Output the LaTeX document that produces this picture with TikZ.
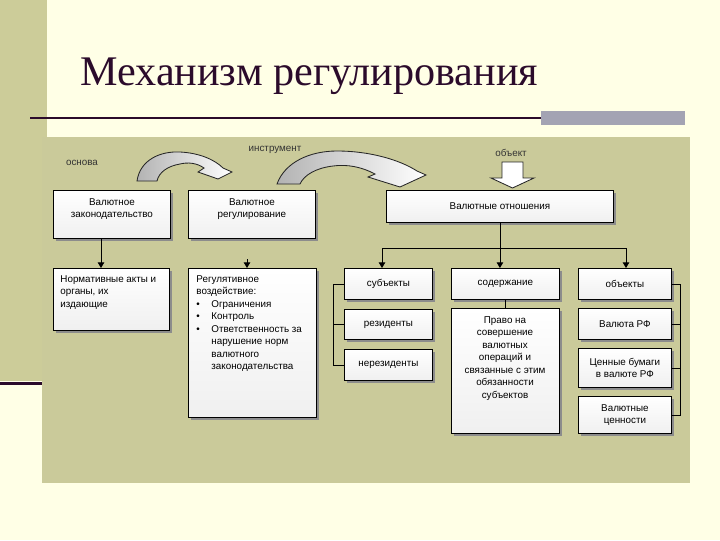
\documentclass[tikz,border=0pt]{standalone}
\usepackage{fontspec}
\setmainfont{Liberation Serif}
\newfontfamily\dsans{Liberation Sans}
\usetikzlibrary{positioning,shadows,arrows.meta}
\definecolor{bgyellow}{HTML}{FFFFE6}
\definecolor{khaki}{HTML}{CCCC99}
\definecolor{panel}{HTML}{CACA9A}
\definecolor{plum}{HTML}{2B0B2B}
\definecolor{barcol}{HTML}{A3A3B3}
\newcommand\px{0.025cm}
\newcommand\bul{\makebox[0.375cm][l]{\textbullet}}
\newcommand\ind{\hspace*{0.375cm}}
\tikzset{
  box/.style n args={2}{draw,line width=0.6pt,anchor=north west,inner sep=1pt,
    minimum width=#1*\px,minimum height=#2*\px,top color=white,bottom color=black!6,
    drop shadow={shadow xshift=0.07cm,shadow yshift=-0.07cm,fill=black!45,opacity=1},
    font=\dsans\fontsize{7}{8.9}\selectfont,align=center},
  boxtext/.style={font=\dsans\fontsize{7}{8.9}\selectfont,inner sep=0pt},
  tag/.style={font=\dsans\fontsize{7}{8.9}\selectfont,text=black!80,inner sep=0pt},
  arr/.style={-{Triangle[width=4.6pt,length=4pt]}},
  bigarrow/.style={draw=black!85,line width=0.6pt,left color=black!30,middle color=white,right color=white},
}
\begin{document}
\begin{tikzpicture}[x=0.025cm,y=-0.025cm,line width=0.6pt]
% slide
\fill[bgyellow] (0,0) rectangle (720,540);
\useasboundingbox (0,0) rectangle (720,540);
\fill[khaki] (0,0) rectangle (47,381);
\draw[plum,line width=2pt] (0,383.5) -- (42,383.5);
\node[font=\fontsize{30}{33}\selectfont,text=plum,anchor=base west,inner sep=0pt] (title) at (80,85) {Механизм регулирования};
\draw[plum,line width=2pt] (30,118) -- (541,118);
\fill[barcol] (541,111) rectangle (685,125);
\fill[panel] (42,137) rectangle (690,483);

% top labels and block arrows
\node[tag] (base) at (82,163) {основа};
\node[tag] (tool) at (275,150) {инструмент};
\node[tag] (obj) at (511,153) {объект};
\draw[bigarrow] (137,181) .. controls (140,160) and (160,151) .. (180,152)
  .. controls (200,153) and (215,160) .. (223,168) -- (232,172) -- (218,179) -- (198,172) -- (204,168)
  .. controls (197,163) and (188,162) .. (180,164) .. controls (168,166) and (159,172) .. (157,181) -- cycle;
\draw[bigarrow] (277,184) .. controls (285,162) and (310,151) .. (337,151)
  .. controls (370,151) and (400,160) .. (417,171) -- (426,175) -- (400,187) -- (368,177) -- (375,174)
  .. controls (362,167) and (347,164) .. (333,166) .. controls (316,168) and (304,175) .. (300,184) -- cycle;
\draw[draw=black!85,fill=white] (502,162) -- (523,162) -- (523,178) -- (534,178) -- (512.5,188)
  -- (491,178) -- (502,178) -- cycle;

% first row
\node[box={117}{48}] (A) at (53,190) {};
\node[boxtext,align=center,below=0.2cm of A.north] (At) {Валютное\\законодательство};
\node[box={127}{48}] (B) at (188,190) {};
\node[boxtext,align=center,below=0.2cm of B.north] (Bt) {Валютное\\регулирование};
\node[box={227}{32}] (C) at (386,190) {Валютные отношения};

% second row
\node[box={116}{62}] (D) at (53,268) {};
\node[boxtext,align=left,anchor=north west] (Dt) at (60,275) {Нормативные акты и\\органы, их\\издающие};
\node[box={128}{149}] (E) at (188,268) {};
\node[boxtext,align=left,anchor=north west] (Et) at (196,275) {Регулятивное\\воздействие:\\
  \bul Ограничения\\\bul Контроль\\\bul Ответственность за\\\ind нарушение норм\\\ind валютного\\\ind законодательства};
\node[box={88}{31}] (F) at (344,268) {субъекты};
\node[box={88}{30}] (G) at (344,309) {резиденты};
\node[box={88}{31}] (H) at (344,349) {нерезиденты};
\node[box={108}{31}] (I) at (451,268) {содержание};
\node[box={108}{125}] (J) at (451,308) {};
\node[boxtext,align=center,anchor=north] (Jt) at (505,316) {Право на\\совершение\\валютных\\операций и\\связанные с этим\\обязанности\\субъектов};
\node[box={93}{31}] (K) at (578,268) {объекты};
\node[box={93}{31}] (L) at (578,308) {Валюта РФ};
\node[box={93}{39}] (M) at (578,348) {Ценные бумаги\\в валюте РФ};
\node[box={93}{37}] (N) at (578,396) {Валютные\\ценности};

% connectors
\coordinate (ax) at (101,0);
\coordinate (ex) at (247,259);
\coordinate (fx) at (382,248);
\coordinate (kx) at (626,248);
\draw[arr] (A.south -| ax) -- (D.north -| ax);
\draw[arr] (ex) -- (E.north -| ex);
\draw (C.south) -- (C.south |- fx);
\draw (fx) -- (kx);
\draw[arr] (fx) -- (F.north -| fx);
\draw[arr] (C.south |- fx) -- (I.north -| C.south);
\draw[arr] (kx) -- (K.north -| kx);
\draw (I.south) -- (J.north);
\draw (F.west) -- ++(-11,0) |- (H.west);
\draw (G.west) -- ++(-11,0);
\draw (K.east) -- ++(9,0) |- (N.east);
\draw (L.east) -- ++(9,0);
\draw (M.east) -- ++(9,0);
\end{tikzpicture}
\end{document}
